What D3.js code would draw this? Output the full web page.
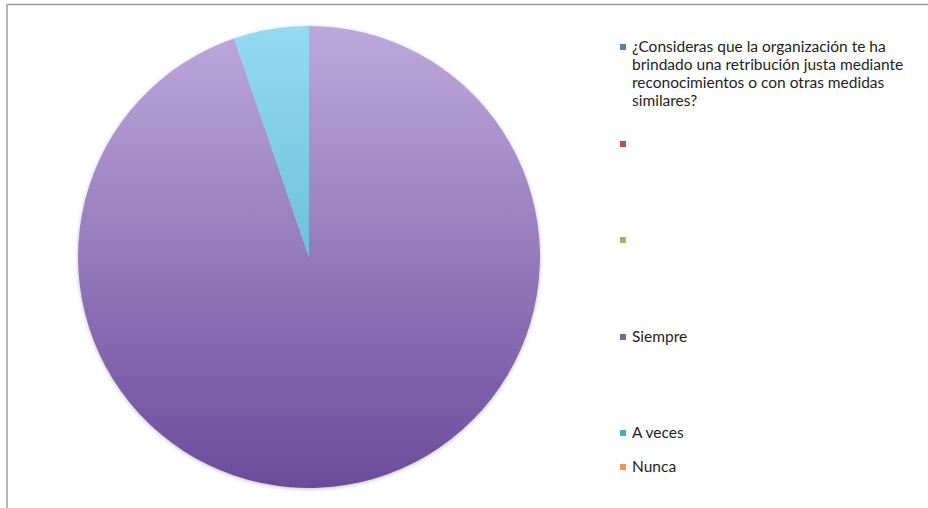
<!DOCTYPE html>
<html>
<head>
<meta charset="utf-8">
<script src="https://cdn.jsdelivr.net/npm/d3@7"></script>
<style>
  body { margin: 0; background: #fff; }
  svg { display: block; font-family: Lato, "Open Sans", sans-serif; }
</style>
</head>
<body>
<svg id="canvas"></svg>
<script>
// Chart data
const categories = [
    "¿Consideras que la organización te ha brindado una retribución justa mediante reconocimientos o con otras medidas similares?",
    "",
    "",
    "Siempre",
    "A veces",
    "Nunca"
];
const values = [0, 0, 0, 18, 1, 0];
const colors = ["#4f81bd", "#c0504d", "#9bbb59", "#8064a2", "#4bacc6", "#f79646"];
// light / dark ends of each slice gradient
const lightColors = ["#8fb0dc", "#e08a88", "#c2dc8c", "#bda9dc", "#94daf2", "#fbc193"];
const darkColors = ["#3c679e", "#9e3a37", "#7a9a3e", "#6b4b9b", "#45a9c6", "#d77a30"];

const width = 928;
const height = 508;

const svg = d3.select("#canvas")
    .attr("width", width)
    .attr("height", height);

// Frame (top and left edges visible)
svg.append("line").attr("x1", 7).attr("y1", 4.5).attr("x2", width).attr("y2", 4.5)
    .attr("stroke", "#9a9a9a").attr("stroke-width", 1.5);
svg.append("line").attr("x1", 7).attr("y1", 4).attr("x2", 7).attr("y2", height)
    .attr("stroke", "#b4b4b4").attr("stroke-width", 2);

const cx = 309, cy = 257, radius = 231;

const defs = svg.append("defs");
colors.forEach((c, i) => {
    const g = defs.append("linearGradient")
        .attr("id", "grad" + i)
        .attr("gradientUnits", "userSpaceOnUse")
        .attr("x1", 0).attr("y1", -radius)
        .attr("x2", 0).attr("y2", radius);
    g.append("stop").attr("offset", "0%").attr("stop-color", lightColors[i]);
    g.append("stop").attr("offset", "100%").attr("stop-color", darkColors[i]);
});

const shadow = defs.append("filter").attr("id", "soft")
    .attr("x", "-10%").attr("y", "-10%").attr("width", "120%").attr("height", "120%");
shadow.append("feGaussianBlur").attr("in", "SourceAlpha").attr("stdDeviation", 2).attr("result", "b");
shadow.append("feOffset").attr("in", "b").attr("dy", 1).attr("result", "o");
shadow.append("feComponentTransfer").attr("in", "o").attr("result", "s")
    .append("feFuncA").attr("type", "linear").attr("slope", 0.25);
const merge = shadow.append("feMerge");
merge.append("feMergeNode").attr("in", "s");
merge.append("feMergeNode").attr("in", "SourceGraphic");

const pie = d3.pie().sort(null).value(d => d.value);
const arc = d3.arc().innerRadius(0).outerRadius(radius);

const slices = categories.map((name, i) => ({ name, value: values[i], index: i }));

const pieGroup = svg.append("g")
    .attr("transform", `translate(${cx},${cy})`)
    .attr("filter", "url(#soft)");

pieGroup.selectAll("path")
    .data(pie(slices).filter(d => d.data.value > 0))
    .enter()
    .append("path")
    .attr("d", arc)
    .attr("fill", d => `url(#grad${d.data.index})`);

// Legend
const legendRowY = [47, 144, 240, 337, 433, 467];
const legendX = 623;
const maxTextWidth = 282;

const legend = svg.append("g");
const items = legend.selectAll("g")
    .data(slices)
    .enter()
    .append("g")
    .attr("transform", (d, i) => `translate(${legendX},${legendRowY[i]})`);

items.append("rect")
    .attr("x", -3).attr("y", -3)
    .attr("width", 6).attr("height", 6)
    .attr("fill", d => colors[d.index]);

items.append("text")
    .attr("x", 9)
    .attr("y", 5)
    .attr("font-size", 15.5)
    .attr("fill", "#1e1e1e")
    .each(function(d) {
        // wrap long labels onto several lines
        const text = d3.select(this);
        const words = d.name.split(" ");
        let line = [];
        let tspan = text.append("tspan").attr("x", 9).attr("dy", 0);
        words.forEach(w => {
            line.push(w);
            tspan.text(line.join(" "));
            if (tspan.node().getComputedTextLength() > maxTextWidth && line.length > 1) {
                line.pop();
                tspan.text(line.join(" "));
                line = [w];
                tspan = text.append("tspan").attr("x", 9).attr("dy", 18).text(w);
            }
        });
    });
</script>
</body>
</html>
